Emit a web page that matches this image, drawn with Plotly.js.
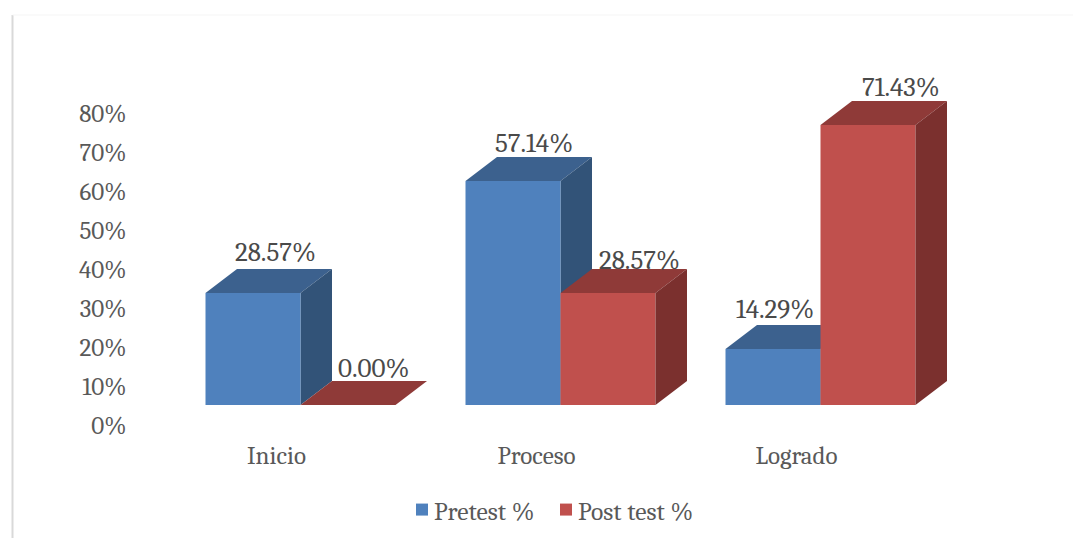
<!DOCTYPE html>
<html><head><meta charset="utf-8">
<script src="https://cdn.plot.ly/plotly-3.0.1.min.js"></script>
<style>html,body{margin:0;padding:0;background:#fff}#chart{width:1073px;height:538px}</style>
</head><body><div id="chart"></div>
<script>
const categories = ["Inicio", "Proceso", "Logrado"];
const pretest = [28.57, 57.14, 14.29];
const posttest = [0.00, 28.57, 71.43];
const yTicks = [0, 10, 20, 30, 40, 50, 60, 70, 80];

// Styling / geometry of the pseudo-3D look
const W = 1073, H = 538;
const pxPerCat = 260, pxPerPct = 3.92;
const cat0Px = 300.5, basePx = 405;
const axisPxPerPct = 3.9, axisBasePx = 425.5, labelCat0Px = 276.5;
const barW = 95 / pxPerCat;
const depthX = 31.5 / pxPerCat, depthY = 24 / pxPerPct;
const colors = {
  pre: {front: "#4F81BD", top: "#3C618E", side: "#325378"},
  post: {front: "#C0504D", top: "#8F3A38", side: "#7B302E"}
};
const serif = "Cambria, 'Liberation Serif', serif";
const nudgePre = [[22, -1], [21, -4], [2, -2]];
const nudgePost = [[25, -5], [31, -9], [33, -4]];

function depthFaces(vals, col, off, layer) {
  const out = [];
  vals.forEach((v, i) => {
    const x0 = i + off, x1 = x0 + barW;
    const poly = (pts, fill) => out.push({
      type: "path", xref: "x", yref: "y", layer: layer, fillcolor: fill,
      line: {width: 0},
      path: "M" + pts.map(p => p[0] + "," + p[1]).join("L") + "Z"
    });
    poly([[x0, v], [x1, v], [x1 + depthX, v + depthY], [x0 + depthX, v + depthY]], col.top);
    poly([[x1, 0], [x1 + depthX, depthY], [x1 + depthX, v + depthY], [x1, v]], col.side);
  });
  return out;
}

function labels(vals, off, nudge) {
  return vals.map((v, i) => ({
    xref: "x", yref: "y", x: i + off + barW / 2, y: v + depthY,
    text: v.toFixed(2) + "%", showarrow: false, yanchor: "bottom",
    xshift: nudge[i][0], yshift: nudge[i][1],
    font: {family: serif, size: 27, color: "#4A4A4A"}
  }));
}

const xs = categories.map((c, i) => i);
const traces = [
  {type: "bar", name: "Pretest %", x: xs, y: pretest, marker: {color: colors.pre.front}, hoverinfo: "y"},
  {type: "bar", name: "Post test %", x: xs, y: posttest, marker: {color: colors.post.front}, hoverinfo: "y"},
  {type: "scatter", x: [0], y: [0], xaxis: "x2", yaxis: "y2", mode: "none", showlegend: false, hoverinfo: "skip"}
];

const layout = {
  width: W, height: H, margin: {l: 0, r: 0, t: 0, b: 0},
  paper_bgcolor: "#fff", plot_bgcolor: "rgba(0,0,0,0)",
  barmode: "group", bargap: 1 - 2 * barW, bargroupgap: 0,
  font: {family: serif, color: "#595959", size: 25},
  xaxis: {range: [-cat0Px / pxPerCat, (W - cat0Px) / pxPerCat], visible: false, fixedrange: true},
  yaxis: {range: [(basePx - H) / pxPerPct, basePx / pxPerPct], visible: false, fixedrange: true},
  xaxis2: {
    overlaying: "x", anchor: "free", position: 1 - 438 / H, side: "bottom",
    range: [-labelCat0Px / pxPerCat, (W - labelCat0Px) / pxPerCat],
    tickmode: "array", tickvals: xs, ticktext: categories,
    showgrid: false, zeroline: false, showline: false, ticks: "",
    tickfont: {family: serif, size: 25, color: "#595959"}, fixedrange: true
  },
  yaxis2: {
    overlaying: "y", anchor: "free", position: 126.5 / W, side: "left",
    range: [(axisBasePx - H) / axisPxPerPct, axisBasePx / axisPxPerPct],
    tickmode: "array", tickvals: yTicks, ticktext: yTicks.map(t => t + "%"),
    showgrid: false, zeroline: false, showline: false, ticks: "",
    tickfont: {family: serif, size: 25, color: "#595959"}, fixedrange: true
  },
  legend: {
    orientation: "h", x: 402 / W, xanchor: "left", y: 1 - 510 / H, yanchor: "middle",
    entrywidth: 99, entrywidthmode: "pixels",
    font: {family: serif, size: 25.5, color: "#595959"}, bgcolor: "rgba(0,0,0,0)"
  },
  shapes: [
    {type: "line", xref: "paper", yref: "paper", x0: 12.5 / W, x1: 12.5 / W, y0: 0, y1: 1 - 15 / H, line: {color: "#D9D9D9", width: 2}},
    {type: "line", xref: "paper", yref: "paper", x0: 12.5 / W, x1: 1, y0: 1 - 15 / H, y1: 1 - 15 / H, line: {color: "#F5F5F5", width: 1}}
  ].concat(depthFaces(pretest, colors.pre, -barW, "below"), depthFaces(posttest, colors.post, 0, "above")),
  annotations: labels(pretest, -barW, nudgePre).concat(labels(posttest, 0, nudgePost))
};
Plotly.newPlot("chart", traces, layout, {displayModeBar: false, staticPlot: true}).then(() => {
  // tighten the gap between legend swatch and its text, and keep the last entry unclipped
  document.querySelectorAll("#chart .legendtext").forEach(t => t.setAttribute("x", "32"));
  document.querySelectorAll("#chart .legend [clip-path], #chart .legend[clip-path]").forEach(e => e.removeAttribute("clip-path"));
  document.querySelectorAll("#chart .legend [style*='clip-path']").forEach(e => { e.style.clipPath = "none"; });
});
</script></body></html>
